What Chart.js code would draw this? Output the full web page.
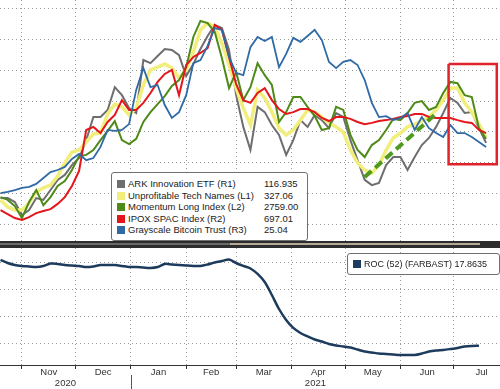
<!DOCTYPE html>
<html>
<head>
<meta charset="utf-8">
<script src="https://cdn.jsdelivr.net/npm/chart.js@4.4.0/dist/chart.umd.min.js"></script>
<style>
  body { margin: 0; width: 500px; height: 389px; overflow: hidden; background: #fff; position: relative;
         font-family: "Liberation Sans", Arial, sans-serif; color: #222; }
  #graficoTopo { position: absolute; left: 0; top: 0; }
  #graficoRoc { position: absolute; left: 0; top: 248px; }
  .faixa { position: absolute; left: 0; width: 500px; }
  .legenda { position: absolute; background: #fff; border: 1px solid #6f6f6f; border-radius: 3px; }
  .linha { position: absolute; left: 0; height: 12px; line-height: 12px; font-size: 9.5px; white-space: nowrap; }
  .quad { position: absolute; width: 8px; height: 8px; top: 2px; }
</style>
</head>
<body>
<canvas id="graficoTopo" width="500" height="241"></canvas>
<div class="faixa" style="top:241px;height:7px;background:#2d2d2d"></div>
<div class="faixa" style="top:243px;height:2px;left:0;width:230px;background:#6a6a6a"></div>
<div class="faixa" style="top:243px;height:2px;left:230px;width:250px;background:#b3a994"></div>
<canvas id="graficoRoc" width="500" height="141"></canvas>
<div class="legenda" id="legendaTopo" style="left:111px;top:172px;width:195px;height:67px"></div>
<div class="legenda" id="legendaRoc" style="left:347px;top:253px;width:151px;height:20px"></div>
<script>
const dates = [
  '2020-10-20','2020-10-24','2020-10-28',
  '2020-11-01','2020-11-05','2020-11-09','2020-11-13','2020-11-17','2020-11-21','2020-11-25','2020-11-29',
  '2020-12-03','2020-12-07','2020-12-11','2020-12-15','2020-12-19','2020-12-23','2020-12-27','2020-12-31',
  '2021-01-04','2021-01-08','2021-01-12','2021-01-16','2021-01-20','2021-01-24','2021-01-28',
  '2021-02-01','2021-02-05','2021-02-09','2021-02-13','2021-02-17','2021-02-21','2021-02-25',
  '2021-03-01','2021-03-05','2021-03-09','2021-03-13','2021-03-17','2021-03-21','2021-03-25','2021-03-29',
  '2021-04-02','2021-04-06','2021-04-10','2021-04-14','2021-04-18','2021-04-22','2021-04-26','2021-04-30',
  '2021-05-04','2021-05-08','2021-05-12','2021-05-16','2021-05-20','2021-05-24','2021-05-28',
  '2021-06-01','2021-06-05','2021-06-09','2021-06-13','2021-06-17','2021-06-21','2021-06-25','2021-06-29',
  '2021-07-03','2021-07-07','2021-07-11','2021-07-15','2021-07-19'
];

// niveis relativos (cada serie tem o seu eixo, sem rotulos)
const arkValues = [18.5, 18.5, 17.2, 13.0, 14.6, 18.5, 17.9, 21.1, 24.4, 26.0,
  29.2, 31.5, 37.3, 44.8, 44.8, 47.1, 54.5, 51.9, 47.7, 46.1,
  63.3, 62.3, 64.6, 66.9, 66.6, 64.9, 58.1, 62.0, 66.9, 71.1,
  74.7, 73.7, 66.6, 51.9, 41.6, 34.1, 48.1, 46.4, 42.2, 39.0,
  32.5, 37.3, 43.8, 41.6, 45.5, 43.8, 41.2, 46.1, 44.8, 37.3,
  30.8, 24.4, 22.7, 23.4, 29.2, 31.8, 31.8, 27.6, 31.8, 35.7,
  38.0, 41.6, 46.1, 51.0, 49.4, 46.1, 46.4, 41.2, 36.4];
const techValues = [17.9, 15.6, 14.6, 14.6, 16.9, 20.5, 21.8, 22.7, 25.6, 29.9,
  33.4, 34.1, 36.7, 39.3, 39.6, 45.8, 49.0, 48.1, 45.5, 47.7,
  55.2, 60.1, 61.0, 62.0, 60.7, 57.5, 60.1, 65.9, 73.1, 75.3,
  74.0, 68.8, 61.7, 54.2, 47.7, 42.2, 53.6, 51.0, 46.4, 41.2,
  39.0, 40.6, 43.8, 47.1, 46.4, 44.8, 42.9, 41.6, 39.9, 34.1,
  29.9, 27.6, 26.6, 29.2, 34.1, 38.0, 39.6, 41.6, 42.5, 43.5,
  44.8, 47.1, 50.3, 54.2, 54.2, 49.4, 46.4, 42.5, 38.3];
const momentumValues = [18.8, 17.9, 15.9, 12.0, 17.2, 21.1, 16.2, 18.8, 22.4, 24.0,
  27.6, 32.1, 32.5, 34.1, 37.3, 40.3, 43.5, 37.3, 36.0, 37.7,
  43.2, 46.4, 49.0, 51.6, 54.9, 56.8, 61.0, 70.8, 76.0, 75.3,
  72.4, 64.0, 54.2, 59.4, 50.3, 54.5, 62.3, 58.4, 55.2, 43.2,
  46.4, 51.3, 51.3, 48.1, 45.1, 40.6, 41.2, 48.1, 47.1, 39.0,
  34.1, 31.8, 35.7, 37.3, 40.6, 44.2, 43.8, 46.1, 49.4, 50.0,
  47.1, 48.1, 52.6, 56.2, 55.8, 51.9, 51.3, 41.2, 37.7];
const spacValues = [14.6, 13.3, 12.0, 11.4, 12.3, 13.6, 14.3, 14.9, 16.6, 18.8,
  22.4, 27.3, 40.6, 41.6, 39.6, 43.2, 45.5, 50.3, 47.1, 47.1,
  49.4, 52.6, 56.2, 58.8, 60.1, 51.9, 61.7, 64.3, 65.6, 67.2,
  74.7, 73.1, 64.3, 55.5, 50.3, 49.4, 52.6, 54.2, 50.3, 47.4,
  45.8, 46.4, 47.4, 47.4, 46.4, 44.5, 43.5, 44.8, 44.8, 44.2,
  43.2, 42.5, 42.9, 43.5, 43.8, 44.2, 44.8, 45.1, 45.8, 45.8,
  44.8, 44.5, 44.5, 44.5, 43.8, 43.2, 42.9, 40.6, 39.6];
const bitcoinValues = [20.1, 20.5, 21.1, 21.8, 22.1, 23.1, 25.0, 26.9, 27.6, 28.6,
  31.2, 32.8, 30.8, 31.5, 35.1, 40.6, 40.3, 40.6, 42.5, 53.6,
  60.7, 54.5, 55.2, 48.7, 44.5, 46.4, 51.9, 62.3, 63.3, 67.9,
  73.7, 73.1, 64.3, 59.1, 58.4, 67.5, 70.8, 69.5, 70.8, 61.0,
  65.3, 70.5, 69.2, 71.1, 73.1, 69.8, 62.7, 60.7, 62.7, 63.3,
  61.7, 56.8, 49.4, 44.8, 45.1, 43.8, 44.5, 46.1, 40.6, 44.8,
  41.2, 39.6, 38.3, 42.2, 39.6, 39.6, 38.3, 36.7, 35.1];
const rocValues = [82.3, 80.0, 78.5, 77.8, 77.4, 77.0, 77.8, 79.6, 79.3, 78.5,
  78.1, 77.8, 77.0, 77.4, 78.5, 78.5, 78.5, 77.8, 77.0, 77.0,
  76.6, 76.3, 77.0, 79.3, 78.9, 78.5, 78.1, 77.8, 77.8, 78.9,
  80.4, 81.5, 82.6, 80.0, 77.8, 75.9, 71.8, 65.8, 56.0, 45.5,
  37.3, 31.3, 27.5, 24.9, 22.6, 21.1, 19.3, 18.1, 17.4, 16.6,
  15.1, 13.6, 12.9, 12.1, 11.8, 11.4, 11.0, 11.0, 11.0, 12.1,
  13.6, 14.4, 14.8, 15.5, 16.3, 17.4, 17.8, 17.8635, null];

const trendDates = ['2021-05-12', '2021-06-22'];
const trendValues = [25.3, 46.4];
const boxDates = ['2021-06-28', '2021-07-25', '2021-07-25', '2021-06-28', '2021-06-28'];
const boxValues = [62.0, 62.0, 29.5, 29.5, 62.0];

const monthStarts = ['2020-11-01','2020-12-01','2021-01-01','2021-02-01','2021-03-01',
  '2021-04-01','2021-05-01','2021-06-01','2021-07-01','2021-08-01'];
const monthLabels = ['Nov','Dec','Jan','Feb','Mar','Apr','May','Jun','Jul'];
const yearLabels = ['2020', '2021'];
const topGrid = [10, 20, 30, 40, 50, 60, 70, 80];
const rocGrid = [20, 40, 60, 80];

const legendNames = ['ARK Innovation ETF (R1)', 'Unprofitable Tech Names (L1)', 'Momentum Long Index (L2)',
  'IPOX SPAC Index (R2)', 'Grayscale Bitcoin Trust (R3)'];
const legendValues = ['116.935', '327.06', '2759.00', '697.01', '25.04'];
const legendColors = ['#6e6e6e', '#f1ee7c', '#4e8a18', '#e3161c', '#2f6aa6'];
const rocName = 'ROC (52) (FARBAST)';
const rocLast = '17.8635';

function dayOf(s) {
  const p = s.split('-');
  return (Date.UTC(+p[0], +p[1] - 1, +p[2]) - Date.UTC(2020, 9, 1)) / 864e5;
}
function pontos(ds, vals) {
  return vals.map((v, i) => ({ x: dayOf(ds[i]), y: v }));
}

const X_MIN = 18.7, X_MAX = 298.8;
const yearBounds = [X_MIN, dayOf('2021-01-01'), X_MAX];
const monthTicks = monthStarts.map(dayOf).filter(d => d > X_MIN && d < X_MAX);
const monthMids = monthLabels.map((m, i) => (dayOf(monthStarts[i]) + dayOf(monthStarts[i + 1])) / 2);
const yearMids = yearLabels.map((y, i) => (yearBounds[i] + yearBounds[i + 1]) / 2);

const gradeCor = '#9a9a9a';
const fonte = { family: '"Liberation Sans", Arial, sans-serif', size: 9.5 };

function linha(label, vals, cor, largura) {
  return { label: label, data: pontos(dates, vals), borderColor: cor, borderWidth: largura,
           pointRadius: 0, tension: 0, fill: false };
}

new Chart(document.getElementById('graficoTopo').getContext('2d'), {
  type: 'line',
  data: {
    datasets: [
      { data: pontos(boxDates, boxValues), borderColor: '#e0222a', borderWidth: 2.5, pointRadius: 0, fill: false },
      { data: pontos(trendDates, trendValues), borderColor: '#4f9a1e', borderWidth: 4, borderDash: [9, 5], pointRadius: 0, fill: false },
      linha(legendNames[4], bitcoinValues, legendColors[4], 1.8),
      linha(legendNames[3], spacValues, legendColors[3], 2),
      linha(legendNames[2], momentumValues, legendColors[2], 2),
      linha(legendNames[1], techValues, legendColors[1], 3.5),
      linha(legendNames[0], arkValues, legendColors[0], 2)
    ]
  },
  options: {
    responsive: false,
    animation: false,
    layout: { padding: 0 },
    plugins: { legend: { display: false }, tooltip: { enabled: false } },
    scales: {
      x: {
        type: 'linear', min: X_MIN, max: X_MAX,
        afterBuildTicks: s => { s.ticks = monthTicks.map(v => ({ value: v })); },
        ticks: { display: false },
        grid: { color: gradeCor, drawTicks: false },
        border: { display: false, dash: [1, 3] }
      },
      y: {
        min: 4.55, max: 82.8,
        afterBuildTicks: s => { s.ticks = topGrid.map(v => ({ value: v })); },
        ticks: { display: false },
        grid: { color: gradeCor, drawTicks: false },
        border: { display: false, dash: [1, 3] }
      }
    }
  }
});

const separadorAno = {
  id: 'separadorAno',
  afterDraw(chart) {
    const ctx = chart.ctx;
    const px = Math.round(chart.scales.x.getPixelForValue(yearBounds[1])) + 0.5;
    ctx.save();
    ctx.strokeStyle = '#555';
    ctx.lineWidth = 1;
    ctx.beginPath();
    ctx.moveTo(px, chart.scales.x3.top - 3);
    ctx.lineTo(px, chart.height);
    ctx.stroke();
    ctx.restore();
  }
};

new Chart(document.getElementById('graficoRoc').getContext('2d'), {
  type: 'line',
  data: {
    datasets: [{
      label: rocName, data: pontos(dates, rocValues), borderColor: '#1d3b5c', borderWidth: 2.5,
      pointRadius: 0, tension: 0.3, fill: false
    }]
  },
  options: {
    responsive: false,
    animation: false,
    layout: { padding: 0 },
    plugins: { legend: { display: false }, tooltip: { enabled: false } },
    scales: {
      x: {
        type: 'linear', position: 'bottom', min: X_MIN, max: X_MAX, weight: 1,
        afterBuildTicks: s => { s.ticks = monthTicks.map(v => ({ value: v })); },
        afterFit: s => { s.height = 4; },
        ticks: { display: false },
        grid: { color: gradeCor, drawTicks: true, tickLength: 4, tickColor: '#333', tickWidth: 1 },
        border: { display: true, color: '#333', width: 1, dash: [1, 3] }
      },
      x2: {
        type: 'linear', position: 'bottom', min: X_MIN, max: X_MAX, weight: 2,
        afterBuildTicks: s => { s.ticks = monthMids.map(v => ({ value: v })); },
        afterFit: s => { s.height = 9; },
        ticks: { callback: (v, i) => monthLabels[i], autoSkip: false, maxRotation: 0, padding: -2,
                 color: '#333', font: fonte },
        grid: { display: false, drawTicks: false },
        border: { display: false }
      },
      x3: {
        type: 'linear', position: 'bottom', min: X_MIN, max: X_MAX, weight: 3,
        afterBuildTicks: s => { s.ticks = yearMids.map(v => ({ value: v })); },
        afterFit: s => { s.height = 11; },
        ticks: { callback: (v, i) => yearLabels[i], autoSkip: false, maxRotation: 0, padding: 0,
                 color: '#333', font: fonte },
        grid: { display: false, drawTicks: false },
        border: { display: false }
      },
      y: {
        min: 3.5, max: 91.25,
        afterBuildTicks: s => { s.ticks = rocGrid.map(v => ({ value: v })); },
        ticks: { display: false },
        grid: { color: gradeCor, drawTicks: false },
        border: { display: false, dash: [1, 3] }
      }
    }
  },
  plugins: [separadorAno]
});

// legendas em HTML
const legTopo = document.getElementById('legendaTopo');
legendNames.forEach((nome, i) => {
  const row = document.createElement('div');
  row.className = 'linha';
  row.style.top = (5 + i * 11.5) + 'px';
  row.style.width = '195px';
  row.innerHTML = '<span class="quad" style="left:5px;background:' + legendColors[i] + '"></span>' +
    '<span style="position:absolute;left:16px">' + nome + '</span>' +
    '<span style="position:absolute;left:152px">' + legendValues[i] + '</span>';
  legTopo.appendChild(row);
});
const legRoc = document.getElementById('legendaRoc');
legRoc.innerHTML = '<span class="quad" style="left:5px;top:6px;background:#1d3b5c"></span>' +
  '<span style="position:absolute;left:16px;top:0;line-height:20px;font-size:9px;white-space:nowrap">' +
  rocName + ' ' + rocLast + '</span>';
</script>
</body>
</html>
